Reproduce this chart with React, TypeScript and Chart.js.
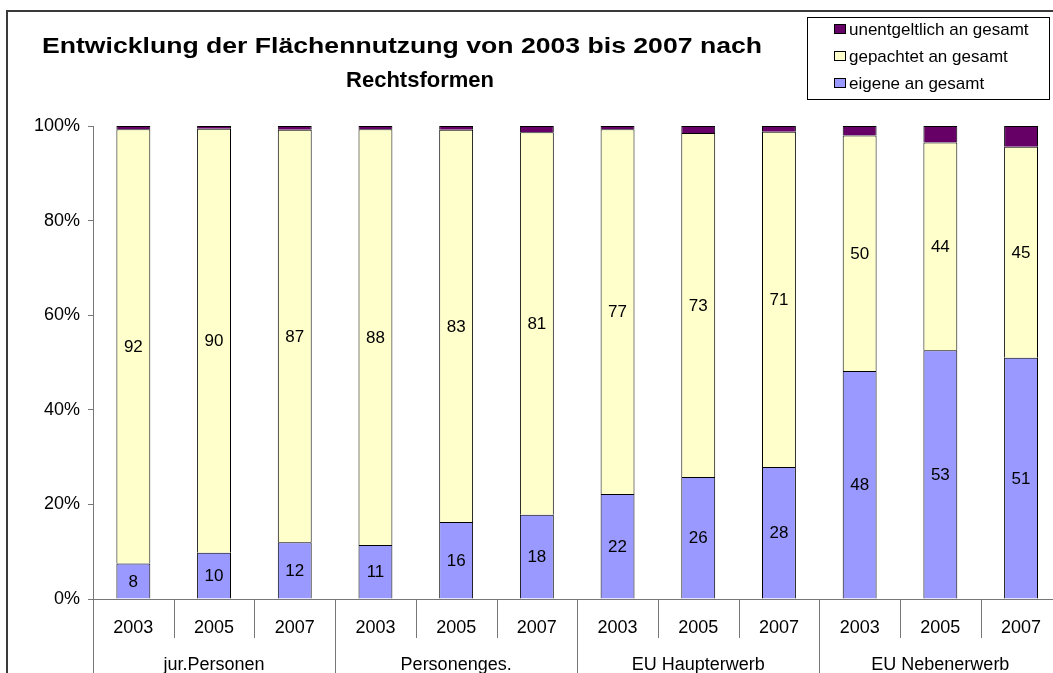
import React, { useEffect, useRef } from 'react';
import { Chart, registerables } from 'chart.js';
Chart.register(...registerables);

const FONT = '"Liberation Sans", Arial, sans-serif';

const years = ['2003', '2005', '2007', '2003', '2005', '2007', '2003', '2005', '2007', '2003', '2005', '2007'];
const groups = ['jur.Personen', 'Personenges.', 'EU Haupterwerb', 'EU Nebenerwerb'];
const eigene = [7.5, 9.8, 12.0, 11.4, 16.3, 17.8, 22.2, 25.8, 27.9, 48.2, 52.6, 51.0];
const gepachtet = [91.8, 89.6, 87.2, 87.9, 82.9, 80.9, 77.1, 72.7, 70.9, 49.8, 43.9, 44.6];
const unentgeltlich = [0.7, 0.6, 0.8, 0.7, 0.8, 1.3, 0.7, 1.5, 1.2, 2.0, 3.5, 4.4];
const seriesNames = ['eigene an gesamt', 'gepachtet an gesamt', 'unentgeltlich an gesamt'];
const seriesColors = ['#9999FF', '#FFFFCC', '#660066'];
const titleLines = ['Entwicklung der Flächennutzung von 2003 bis 2007 nach', 'Rechtsformen'];

export default function App() {
  const ref = useRef<HTMLCanvasElement>(null);

  useEffect(() => {
    const canvas = ref.current!;

    const decor = {
      id: 'decor',
      afterDatasetsDraw(chart: any) {
        const ctx = chart.ctx;
        ctx.save();
        ctx.fillStyle = '#000';
        ctx.font = `17px ${FONT}`;
        ctx.textAlign = 'center';
        ctx.textBaseline = 'middle';
        [0, 1].forEach((di) => {
          const meta = chart.getDatasetMeta(di);
          meta.data.forEach((el: any, i: number) => {
            const v = chart.data.datasets[di].data[i] as number;
            const cy = (el.y + el.base) / 2;
            ctx.fillText(String(Math.round(v)), el.x, cy + 1);
          });
        });
        ctx.restore();
      },
      afterDraw(chart: any) {
        const ctx = chart.ctx;
        const area = chart.chartArea;
        const xs = chart.scales.x;
        ctx.save();

        // outer frame
        ctx.strokeStyle = '#3a3a3a';
        ctx.lineWidth = 2;
        ctx.beginPath();
        ctx.moveTo(7, 720);
        ctx.lineTo(7, 11);
        ctx.lineTo(1120, 11);
        ctx.stroke();

        // title: first line is drawn wider, as in the reference
        ctx.fillStyle = '#000';
        ctx.font = `bold 22px ${FONT}`;
        ctx.textAlign = 'center';
        ctx.textBaseline = 'alphabetic';
        const sx = 720 / ctx.measureText(titleLines[0]).width;
        ctx.save();
        ctx.translate(402, 53);
        ctx.scale(sx, 1);
        ctx.fillText(titleLines[0], 0, 0);
        ctx.restore();
        ctx.fillText(titleLines[1], 420, 87);

        // legend box
        ctx.lineWidth = 1;
        ctx.strokeStyle = '#000';
        ctx.fillStyle = '#fff';
        ctx.fillRect(807.5, 17.5, 242, 82);
        ctx.strokeRect(807.5, 17.5, 242, 82);
        const rows = [29, 56, 83];
        const order = [2, 1, 0];
        ctx.font = `17px ${FONT}`;
        ctx.textAlign = 'left';
        ctx.textBaseline = 'middle';
        order.forEach((di, r) => {
          const ds = chart.data.datasets[di];
          const y = rows[r];
          ctx.fillStyle = ds.backgroundColor;
          ctx.fillRect(834.5, y - 4.5, 11, 9);
          ctx.strokeStyle = '#000';
          ctx.strokeRect(834.5, y - 4.5, 11, 9);
          ctx.fillStyle = '#000';
          ctx.fillText(ds.label, 849, y + 1);
        });

        // x axis line
        ctx.strokeStyle = '#777';
        ctx.lineWidth = 1;
        ctx.beginPath();
        ctx.moveTo(area.left, area.bottom + 0.5);
        ctx.lineTo(area.right, area.bottom + 0.5);
        ctx.stroke();

        const w = xs.getPixelForValue(1) - xs.getPixelForValue(0);
        for (let i = 0; i <= years.length; i++) {
          const x = Math.round(xs.getPixelForValue(0) - w / 2 + i * w) + 0.5;
          ctx.beginPath();
          ctx.moveTo(x, area.bottom);
          ctx.lineTo(x, i % 3 === 0 ? 720 : area.bottom + 39);
          ctx.stroke();
        }

        ctx.fillStyle = '#000';
        ctx.font = `18px ${FONT}`;
        ctx.textAlign = 'center';
        ctx.textBaseline = 'alphabetic';
        years.forEach((lab, i) => {
          ctx.fillText(lab, xs.getPixelForValue(i), area.bottom + 34);
        });
        groups.forEach((g, gi) => {
          const cx = xs.getPixelForValue(gi * 3 + 1);
          ctx.fillText(g, cx, area.bottom + 71);
        });

        ctx.restore();
      },
    };

    const chart = new Chart(canvas, {
      type: 'bar',
      data: {
        labels: years,
        datasets: [
          { label: seriesNames[0], data: eigene, backgroundColor: seriesColors[0], borderColor: '#000', borderWidth: 1 },
          { label: seriesNames[1], data: gepachtet, backgroundColor: seriesColors[1], borderColor: '#000', borderWidth: 1 },
          { label: seriesNames[2], data: unentgeltlich, backgroundColor: seriesColors[2], borderColor: '#000', borderWidth: 1 },
        ],
      },
      options: {
        responsive: false,
        animation: false,
        devicePixelRatio: 1,
        layout: { padding: { left: 0, top: 126, right: 38.6, bottom: 101 } },
        datasets: { bar: { categoryPercentage: 1, barPercentage: 0.42 } },
        plugins: { legend: { display: false }, tooltip: { enabled: false }, title: { display: false } },
        scales: {
          x: { stacked: true, display: false },
          y: {
            stacked: true,
            min: 0,
            max: 100,
            ticks: {
              stepSize: 20,
              callback: (v: any) => v + '%',
              font: { family: FONT, size: 18 },
              color: '#000',
              padding: 8,
            },
            grid: { drawOnChartArea: false, drawTicks: true, tickLength: 5, color: '#777' },
            border: { color: '#777', width: 1 },
            afterFit: (s: any) => {
              s.width = 93;
            },
          },
        },
      },
      plugins: [decor],
    } as any);

    return () => chart.destroy();
  }, []);

  return (
    <div style={{ position: 'fixed', left: 0, top: 0, width: 1053, height: 673, overflow: 'hidden', background: '#fff' }}>
      <canvas ref={ref} width={1100} height={700} style={{ display: 'block', width: 1100, height: 700 }} />
    </div>
  );
}
